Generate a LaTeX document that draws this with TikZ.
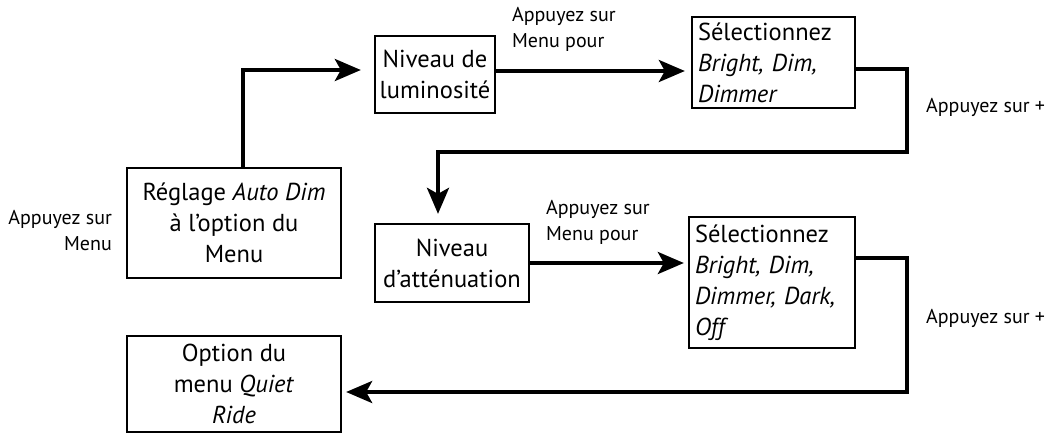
\documentclass[tikz,border=0pt]{standalone}
\usepackage{fontspec}
\setmainfont{PT Sans}
\usetikzlibrary{arrows.meta,positioning,calc}
\tikzset{every picture/.style={line width=2.3pt}}
\tikzset{
    box/.style={draw, align=center, inner xsep=2pt, inner ysep=3pt,
        font=\fontsize{24.5}{31}\selectfont},
    selbox/.style={box, align=left, inner xsep=6pt},
    flow/.style={line width=3.8pt, -{Stealth[length=26pt,width=22pt,inset=6pt]}},
    note/.style={inner sep=0pt, font=\fontsize{20}{26}\selectfont},
}

\begin{document}
\begin{tikzpicture}[x=1pt, y=-1pt]
    \useasboundingbox (0,0) rectangle (1051,437);
    % boxes
    \node[box, minimum width=214pt, minimum height=110pt] (reglage) at (234,223)
        {Réglage \textit{Auto Dim}\\à l’option du\\Menu};
    \node[box, minimum width=120pt, minimum height=77pt] (lum) at (435,74.5)
        {Niveau de\\luminosité};
    \node[selbox, text width=151pt, minimum height=91pt] (sel1) at (773.5,62.5)
        {Sélectionnez\\\textit{Bright, Dim,}\\\textit{Dimmer}};
    \node[box, minimum width=154pt, minimum height=78pt] (att) at (452,263)
        {Niveau\\d’atténuation};
    \node[selbox, text width=154pt, minimum height=131pt] (sel2) at (772,282.5)
        {Sélectionnez\\\textit{Bright, Dim,}\\\textit{Dimmer, Dark,}\\\textit{Off}};
    \node[box, minimum width=214pt, minimum height=96pt] (quiet) at (234,384)
        {Option du\\menu \textit{Quiet}\\\textit{Ride}};
    % labels
    \node[note, anchor=east, align=right] (lblmenu) at (113,231) {Appuyez sur\\Menu};
    \node[note, anchor=west, align=left] (lblpour1) at (511,29) {Appuyez sur\\Menu pour};
    \node[note, anchor=west, align=left] (lblpour2) at (545,222.5) {Appuyez sur\\Menu pour};
    \node[note, anchor=west] (lblplus1) at (925,107) {Appuyez sur +};
    \node[note, anchor=west] (lblplus2) at (925,318) {Appuyez sur +};
    % connectors
    \coordinate (turn1) at (907,152);
    \coordinate (turn2) at (907,392);
    \draw[flow] ([xshift=9pt]reglage.north) |- ([xshift=-13pt,yshift=4.5pt]lum.west);
    \draw[flow] ([yshift=3.5pt]lum.east) -- ([xshift=-6pt,yshift=3.5pt]lum.east -| sel1.west);
    \draw[flow] ([yshift=-6.5pt]sel1.east) -| (turn1) -| ([xshift=-14pt,yshift=9pt]att.north);
    \draw[flow] (att.east) -- ([xshift=-4pt]att.east -| sel2.west);
    \draw[flow] ([yshift=24.5pt]sel2.east) -| (turn2) -- ([xshift=4pt,yshift=-8pt]quiet.east);
\end{tikzpicture}
\end{document}
